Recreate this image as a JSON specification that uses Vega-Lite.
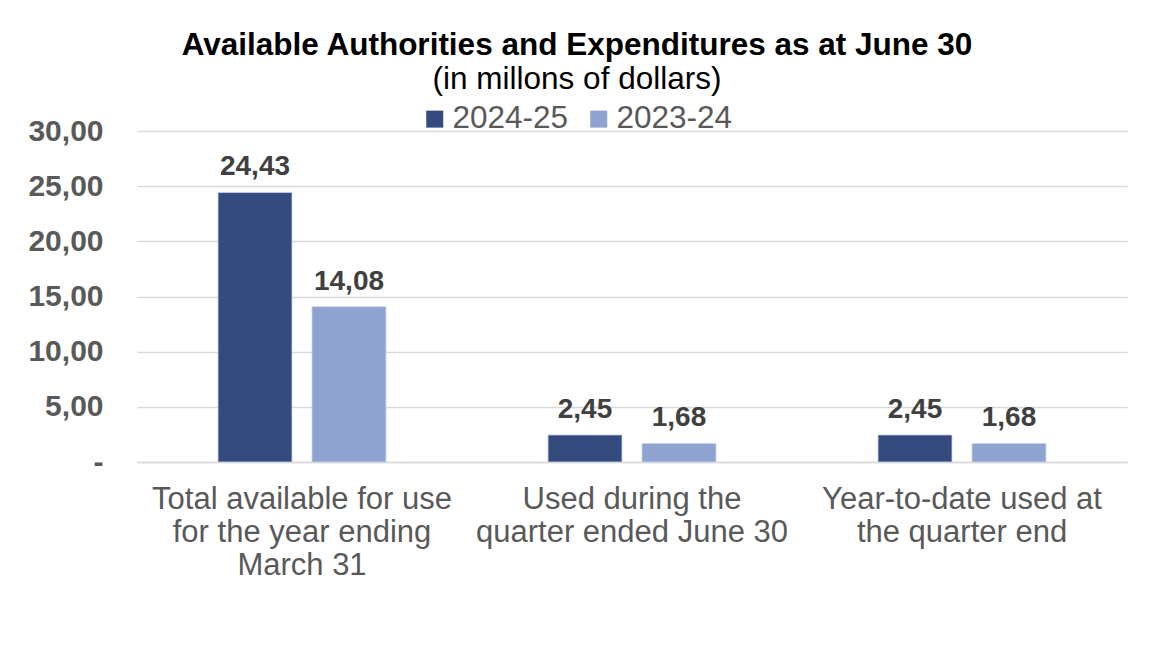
{
  "$schema": "https://vega.github.io/schema/vega-lite/v6.json",
  "width": 990,
  "height": 331,
  "autosize": {"type": "none"},
  "padding": {"left": 137, "top": 131, "right": 28, "bottom": 210},
  "background": "white",
  "title": {
    "text": "Available Authorities and Expenditures as at June 30",
    "subtitle": "(in millons of dollars)",
    "anchor": "middle",
    "frame": "group",
    "dx": -55,
    "offset": 8,
    "font": "Liberation Sans",
    "fontSize": 31.5,
    "fontWeight": "bold",
    "color": "#000000",
    "subtitleFont": "Liberation Sans",
    "subtitleFontSize": 31.5,
    "subtitleColor": "#000000",
    "subtitlePadding": 2
  },
  "data": {
    "values": [
      {"category": "Total available for use\nfor the year ending\nMarch 31", "year": "2024-25", "value": 24.43},
      {"category": "Total available for use\nfor the year ending\nMarch 31", "year": "2023-24", "value": 14.08},
      {"category": "Used during the\nquarter ended June 30", "year": "2024-25", "value": 2.45},
      {"category": "Used during the\nquarter ended June 30", "year": "2023-24", "value": 1.68},
      {"category": "Year-to-date used at\nthe quarter end", "year": "2024-25", "value": 2.45},
      {"category": "Year-to-date used at\nthe quarter end", "year": "2023-24", "value": 1.68}
    ]
  },
  "encoding": {
    "x": {
      "field": "category",
      "type": "nominal",
      "sort": null,
      "scale": {"paddingInner": 0, "paddingOuter": 0},
      "axis": {
        "title": null,
        "labelAngle": 0,
        "labelExpr": "split(datum.label, '\\n')",
        "labelLimit": 0,
        "labelFont": "Liberation Sans",
        "labelFontSize": 31,
        "labelColor": "#595959",
        "labelLineHeight": 33,
        "labelPadding": 22,
        "labelBaseline": "top",
        "ticks": false,
        "domain": true,
        "domainColor": "#d9d9d9",
        "domainWidth": 1.5,
        "grid": false
      }
    },
    "xOffset": {
      "field": "year",
      "type": "nominal",
      "sort": ["2024-25", "2023-24"],
      "scale": {"paddingInner": 0.213, "paddingOuter": 0.862}
    },
    "y": {
      "field": "value",
      "type": "quantitative",
      "scale": {"domain": [0, 30], "nice": false},
      "axis": {
        "title": null,
        "values": [0, 5, 10, 15, 20, 25, 30],
        "labelExpr": "datum.value == 0 ? '-' : replace(format(datum.value, '.2f'), '.', ',')",
        "labelFont": "Liberation Sans",
        "labelFontSize": 30,
        "labelFontWeight": "bold",
        "labelColor": "#595959",
        "labelPadding": 34,
        "ticks": false,
        "domain": false,
        "grid": true,
        "gridColor": "#d9d9d9",
        "gridWidth": 1.5
      }
    }
  },
  "layer": [
    {
      "mark": {"type": "bar", "stroke": "#c9d3ea", "strokeWidth": 0.8},
      "encoding": {
        "color": {
          "field": "year",
          "type": "nominal",
          "sort": ["2024-25", "2023-24"],
          "scale": {"domain": ["2024-25", "2023-24"], "range": ["#354A7D", "#8FA3D1"]},
          "legend": {
            "title": null,
            "orient": "none",
            "legendX": 282,
            "legendY": -28,
            "direction": "horizontal",
            "symbolType": "square",
            "symbolSize": 289,
            "symbolStrokeWidth": 0,
            "labelFont": "Liberation Sans",
            "labelFontSize": 31.5,
            "labelColor": "#595959",
            "labelOffset": 2,
            "columnPadding": 14
          }
        }
      }
    },
    {
      "mark": {
        "type": "text",
        "baseline": "bottom",
        "dy": -11,
        "font": "Liberation Sans",
        "fontSize": 28,
        "fontWeight": "bold",
        "color": "#404040"
      },
      "encoding": {
        "text": {"field": "value", "type": "quantitative", "format": ".2f", "formatType": "number"}
      }
    }
  ],
  "config": {
    "view": {"stroke": null},
    "locale": {"number": {"decimal": ",", "thousands": ".", "grouping": [3], "currency": ["", " $"]}}
  }
}
